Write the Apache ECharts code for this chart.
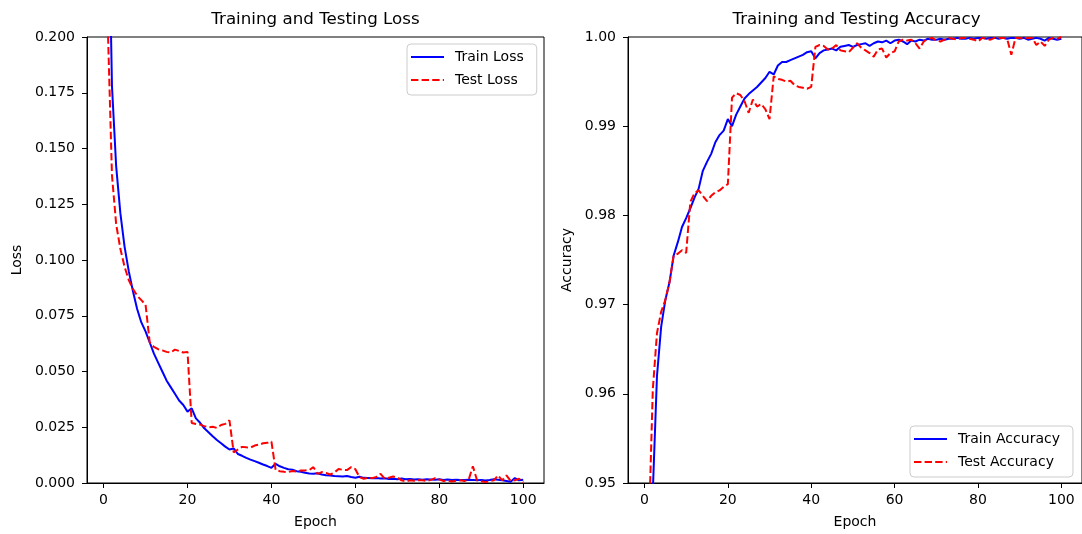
<!DOCTYPE html>
<html>
<head>
<meta charset="utf-8">
<script src="https://cdn.jsdelivr.net/npm/echarts@6/dist/echarts.min.js"></script>
<style>
  html, body { margin: 0; padding: 0; background: #fff; }
  #chart { width: 1082px; height: 534px; }
</style>
</head>
<body>
<div id="chart"></div>
<script>
const epochs = Array.from({ length: 100 }, (_, i) => i + 1);

const trainLoss = [
  0.28, 0.178, 0.142, 0.121, 0.106, 0.095, 0.086, 0.078, 0.072, 0.068,
  0.063, 0.058, 0.054, 0.050, 0.046, 0.043, 0.040, 0.037, 0.035, 0.032,
  0.0335, 0.029, 0.027, 0.0245, 0.0228, 0.021, 0.0193, 0.0178, 0.0163, 0.015,
  0.0155, 0.013, 0.0122, 0.0113, 0.0105, 0.0098, 0.0091, 0.0083, 0.0076, 0.0068,
  0.0086, 0.0075, 0.0068, 0.0062, 0.006, 0.0053, 0.005, 0.0046, 0.0043, 0.0042,
  0.0044, 0.0038, 0.0035, 0.0034, 0.0031, 0.003, 0.0029, 0.0031, 0.0027, 0.0024,
  0.0028, 0.0023, 0.0022, 0.0021, 0.0022, 0.002, 0.0021, 0.0018, 0.0019, 0.0017,
  0.002, 0.0017, 0.0018, 0.0016, 0.0017, 0.0015, 0.0017, 0.0016, 0.0015, 0.0017,
  0.0014, 0.0016, 0.0013, 0.0015, 0.0014, 0.0013, 0.0015, 0.0014, 0.0012, 0.0014,
  0.0011, 0.0013, 0.0017, 0.0015, 0.0012, 0.0009, 0.0006, 0.0022, 0.0012, 0.0015
];

const testLoss = [
  0.205, 0.138, 0.116, 0.105, 0.097, 0.091, 0.087, 0.084, 0.082, 0.080,
  0.063, 0.061, 0.060, 0.0595, 0.0588, 0.0585, 0.0598, 0.0592, 0.0585, 0.0588,
  0.0269, 0.0265, 0.0262, 0.0255, 0.025, 0.0252, 0.0247, 0.026, 0.0265, 0.0281,
  0.0137, 0.015, 0.0162, 0.016, 0.0159, 0.0168, 0.0172, 0.0178, 0.018, 0.0186,
  0.0058, 0.0053, 0.005, 0.0049, 0.0054, 0.0051, 0.0056, 0.0056, 0.0058, 0.0071,
  0.0041, 0.0049, 0.0045, 0.0038, 0.0047, 0.0063, 0.0059, 0.0058, 0.0071, 0.0062,
  0.0026, 0.0019, 0.0024, 0.0022, 0.0027, 0.0041, 0.0019, 0.0024, 0.0029, 0.0025,
  0.0012, 0.0007, 0.0012, 0.001, 0.0012, 0.0012, 0.0009, 0.0014, 0.0022, 0.0016,
  0.0009, 0.0011, 0.0007, 0.001, 0.0012, 0.0009, 0.0015, 0.0075, 0.0012, 0.0008,
  0.0004, 0.0008, 0.0012, 0.0034, 0.0012, 0.0034, 0.0009, 0.0012, 0.0019, 0.0004
];

const trainAcc = [
  0.90, 0.949, 0.962, 0.9675, 0.9705, 0.9725, 0.9755, 0.977, 0.9787, 0.9797,
  0.9808, 0.982, 0.983, 0.985, 0.986, 0.9869, 0.9882, 0.989, 0.9895, 0.9908,
  0.9900, 0.9913, 0.9922, 0.9931, 0.9936, 0.994, 0.9944, 0.9949, 0.9954, 0.9961,
  0.9958, 0.9968, 0.9972, 0.9972, 0.9974, 0.9976, 0.9978, 0.998, 0.9983, 0.9984,
  0.9976, 0.9982, 0.9985, 0.9986, 0.9987, 0.9985, 0.9989, 0.999, 0.9991, 0.9989,
  0.9991, 0.9992, 0.9993, 0.999, 0.9993, 0.9995, 0.9994, 0.9996, 0.9993, 0.9996,
  0.9997, 0.9995, 0.9992, 0.9996, 0.9995, 0.9997, 0.9996, 0.9998, 0.9997, 0.9997,
  0.9998, 0.9997, 0.9998, 0.9998, 0.9999, 0.9998, 0.9998, 0.9999, 0.9998, 0.9999,
  0.9999, 0.9998, 0.9999, 0.9999, 0.9998, 0.9999, 0.9998, 0.9999, 0.9999, 0.9998,
  0.9999, 0.9997, 0.9998, 0.9999, 0.9998, 0.9996, 0.9999, 0.9998, 0.9997, 0.9998
];

const testAcc = [
  0.944, 0.9605, 0.9668, 0.9692, 0.9705, 0.9725, 0.9755, 0.9757, 0.9761, 0.9758,
  0.9815, 0.9825, 0.9828, 0.9822, 0.9816, 0.9822, 0.9826, 0.9828, 0.9832, 0.9835,
  0.9932, 0.9937, 0.9935, 0.9928, 0.9915, 0.9930, 0.9922, 0.9925, 0.9919, 0.9908,
  0.9956, 0.9953, 0.9952, 0.995, 0.9951, 0.9946, 0.9944, 0.9943, 0.9942, 0.9944,
  0.9989, 0.9991, 0.999, 0.9986, 0.9987, 0.9991, 0.9985, 0.9984, 0.9983, 0.9988,
  0.9993, 0.9988, 0.9985, 0.9982, 0.9978, 0.9986, 0.9987, 0.9977, 0.9982, 0.9984,
  0.9995, 0.9997, 0.9996, 0.9997, 0.9993, 0.9987, 0.9995, 0.9998, 0.9999, 0.9996,
  0.9995, 0.9997, 0.9999, 0.9998, 0.9997, 0.9999, 0.9999, 0.9998, 0.9997, 0.9995,
  0.9999, 0.9998, 0.9997, 0.9999, 0.9999, 0.9999, 0.9998, 0.998, 0.9999, 0.9999,
  0.9998, 0.9999, 0.9999, 0.9991, 0.9995, 0.999, 0.9997, 0.9999, 0.9998, 1.0
];

const epochTicks = [0, 20, 40, 60, 80, 100];
const lossTicks = [0, 0.025, 0.05, 0.075, 0.1, 0.125, 0.15, 0.175, 0.2];
const accTicks = [0.95, 0.96, 0.97, 0.98, 0.99, 1.0];

const FONT = 'DejaVu Sans';
const pair = (ys) => epochs.map((e, i) => [e, ys[i]]);

const chart = echarts.init(document.getElementById('chart'), null, { renderer: 'canvas' });

function xAxisFor(gridIndex) {
  return {
    type: 'value',
    gridIndex: gridIndex,
    min: -3.95,
    max: 104.95,
    name: 'Epoch',
    nameLocation: 'middle',
    nameGap: 32,
    nameTextStyle: { fontFamily: FONT, fontSize: 14, color: '#000' },
    axisLine: { show: true, onZero: false, lineStyle: { color: '#000', width: 1 } },
    axisTick: { show: true, customValues: epochTicks, length: 5, lineStyle: { color: '#000', width: 1 } },
    axisLabel: { customValues: epochTicks, margin: 10, fontFamily: FONT, fontSize: 14, color: '#000' },
    splitLine: { show: false }
  };
}

function yAxisFor(gridIndex, min, max, ticks, digits, name, gap) {
  return {
    type: 'value',
    gridIndex: gridIndex,
    min: min,
    max: max,
    name: name,
    nameLocation: 'middle',
    nameGap: gap,
    nameRotate: 90,
    nameTextStyle: { fontFamily: FONT, fontSize: 14, color: '#000' },
    axisLine: { show: true, onZero: false, lineStyle: { color: '#000', width: 1 } },
    axisTick: { show: true, customValues: ticks, length: 5, lineStyle: { color: '#000', width: 1 } },
    axisLabel: {
      customValues: ticks,
      margin: 12,
      fontFamily: FONT,
      fontSize: 14,
      color: '#000',
      formatter: (v) => Number(v).toFixed(digits)
    },
    splitLine: { show: false }
  };
}

function lineSeries(name, ys, xi, color, dashed) {
  return {
    name: name,
    type: 'line',
    xAxisIndex: xi,
    yAxisIndex: xi,
    data: pair(ys),
    symbol: 'none',
    showSymbol: false,
    clip: true,
    lineStyle: { color: color, width: 2, type: dashed ? [7.4, 3.2] : 'solid' },
    itemStyle: { color: color },
    emphasis: { disabled: true }
  };
}

// legend: line sample only, no marker dot
const legendBase = {
  orient: 'vertical',
  itemWidth: 33,
  itemHeight: 14,
  itemGap: 9,
  padding: [6, 13, 8, 3],
  borderColor: '#cccccc',
  borderWidth: 1,
  borderRadius: 4,
  backgroundColor: 'rgba(255,255,255,0.8)',
  itemStyle: { opacity: 0 },
  textStyle: { fontFamily: FONT, fontSize: 14, color: '#000', padding: [0, 0, 0, 6], lineHeight: 14 }
};

const option = {
  animation: false,
  backgroundColor: '#fff',
  title: [
    {
      text: 'Training and Testing Loss',
      left: 315.5,
      top: 11,
      textAlign: 'center',
      padding: 0,
      textStyle: { fontFamily: FONT, fontSize: 16.7, fontWeight: 'normal', color: '#000' }
    },
    {
      text: 'Training and Testing Accuracy',
      left: 856.5,
      top: 11,
      textAlign: 'center',
      padding: 0,
      textStyle: { fontFamily: FONT, fontSize: 16.7, fontWeight: 'normal', color: '#000' }
    }
  ],
  grid: [
    { left: 87, top: 37, width: 457, height: 449, show: true, borderColor: '#000', borderWidth: 1, backgroundColor: 'transparent' },
    { left: 628, top: 37, width: 457, height: 449, show: true, borderColor: '#000', borderWidth: 1, backgroundColor: 'transparent' }
  ],
  xAxis: [xAxisFor(0), xAxisFor(1)],
  yAxis: [
    yAxisFor(0, 0, 0.2, lossTicks, 3, 'Loss', 63),
    yAxisFor(1, 0.95, 1.0, accTicks, 2, 'Accuracy', 54)
  ],
  legend: [
    Object.assign({}, legendBase, { left: 407, top: 44, data: ['Train Loss', 'Test Loss'] }),
    Object.assign({}, legendBase, { left: 910, top: 426, data: ['Train Accuracy', 'Test Accuracy'] })
  ],
  series: [
    lineSeries('Train Loss', trainLoss, 0, '#0000ff', false),
    lineSeries('Test Loss', testLoss, 0, '#ff0000', true),
    lineSeries('Train Accuracy', trainAcc, 1, '#0000ff', false),
    lineSeries('Test Accuracy', testAcc, 1, '#ff0000', true)
  ]
};

chart.setOption(option);
</script>
</body>
</html>
